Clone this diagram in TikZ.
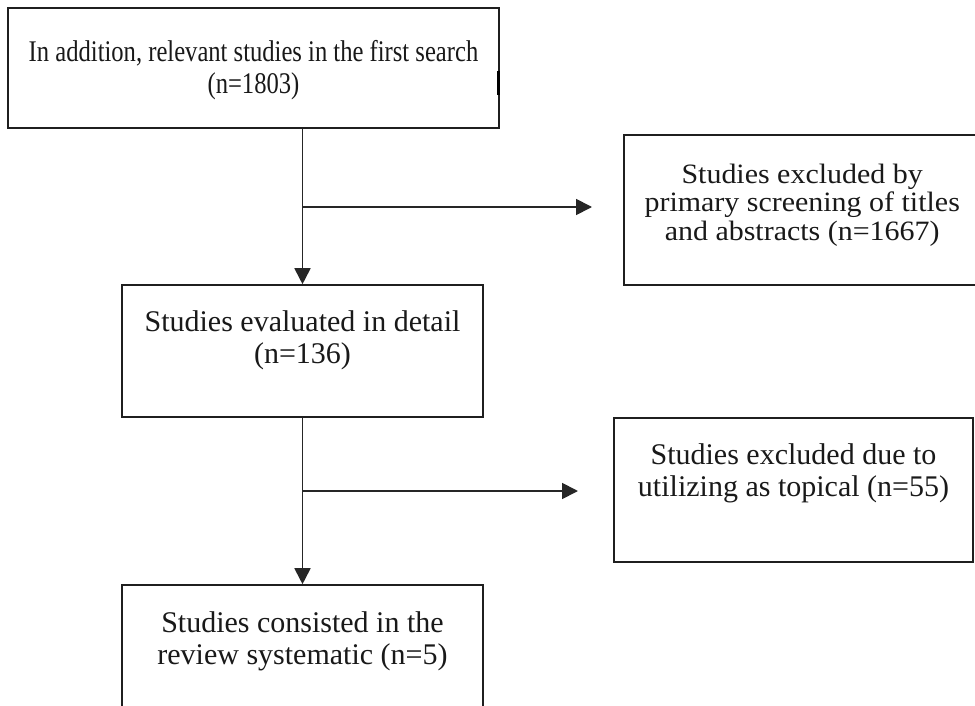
\documentclass[tikz,border=0pt]{standalone}
\usepackage{fontspec}
\setmainfont{Liberation Serif}
\usetikzlibrary{arrows.meta,fit,calc}
\tikzset{
  box/.style={draw=black!88, line width=1.6pt, inner sep=0pt, fill=none},
  txt/.style={inner sep=0pt, anchor=base, text=black!90, font=\fontsize{30}{32}\selectfont},
  conn/.style={draw=black!85, line width=1.8pt},
  arr/.style={conn, -{Triangle[length=16pt,width=16pt]}}
}
\begin{document}
\begin{tikzpicture}[x=1pt,y=-1pt]
\useasboundingbox (0,0) rectangle (975,706);
\clip (0,0) rectangle (975,706);
\fill[white] (0,0) rectangle (975,706);
% boxes
\node[box, fit={(8,8) (499,128)}] (b1) {};
\node[box, fit={(624,135) (990,285)}] (b2) {};
\node[box, fit={(122,285) (483,417)}] (b3) {};
\node[box, fit={(614,418) (973,562)}] (b5) {};
\node[box, fit={(122,585) (483,730)}] (b4) {};
\draw[line width=3pt, black] (498.5,71) -- (498.5,95);
% texts
\node[txt] (t1) at ($(b1.north)+(0,54)$) {\scalebox{0.82}[1]{\begin{tabular}[t]{@{}c@{}}In addition, relevant studies in the first search\\(n=1803)\end{tabular}}};
\node[txt, font=\fontsize{28}{28.5}\selectfont] (t2) at ($(b2.north west)+(179,49)$) {\scalebox{1.07}[1]{\begin{tabular}[t]{@{}c@{}}Studies excluded by\\primary screening of titles\\and abstracts (n=1667)\end{tabular}}};
\node[txt] (t3) at ($(b3.north)+(0,47)$) {\begin{tabular}[t]{@{}c@{}}Studies evaluated in detail\\(n=136)\end{tabular}};
\node[txt] (t5) at ($(b5.north)+(0,47)$) {\begin{tabular}[t]{@{}c@{}}Studies excluded due to\\utilizing as topical (n=55)\end{tabular}};
\node[txt] (t4) at ($(b4.north)+(0,48)$) {\begin{tabular}[t]{@{}c@{}}Studies consisted in the\\review systematic (n=5)\end{tabular}};
% connectors
\coordinate (j1) at (b3.north |- 0,207);
\coordinate (e1) at (592,207);
\coordinate (j2) at (b3.south |- 0,491);
\coordinate (e2) at (578,491);
\draw[arr] (b1.south -| b3.north) -- (b3.north);
\draw[arr] (j1) -- (e1);
\draw[arr] (b3.south) -- (b4.north);
\draw[arr] (j2) -- (e2);
\end{tikzpicture}
\end{document}
